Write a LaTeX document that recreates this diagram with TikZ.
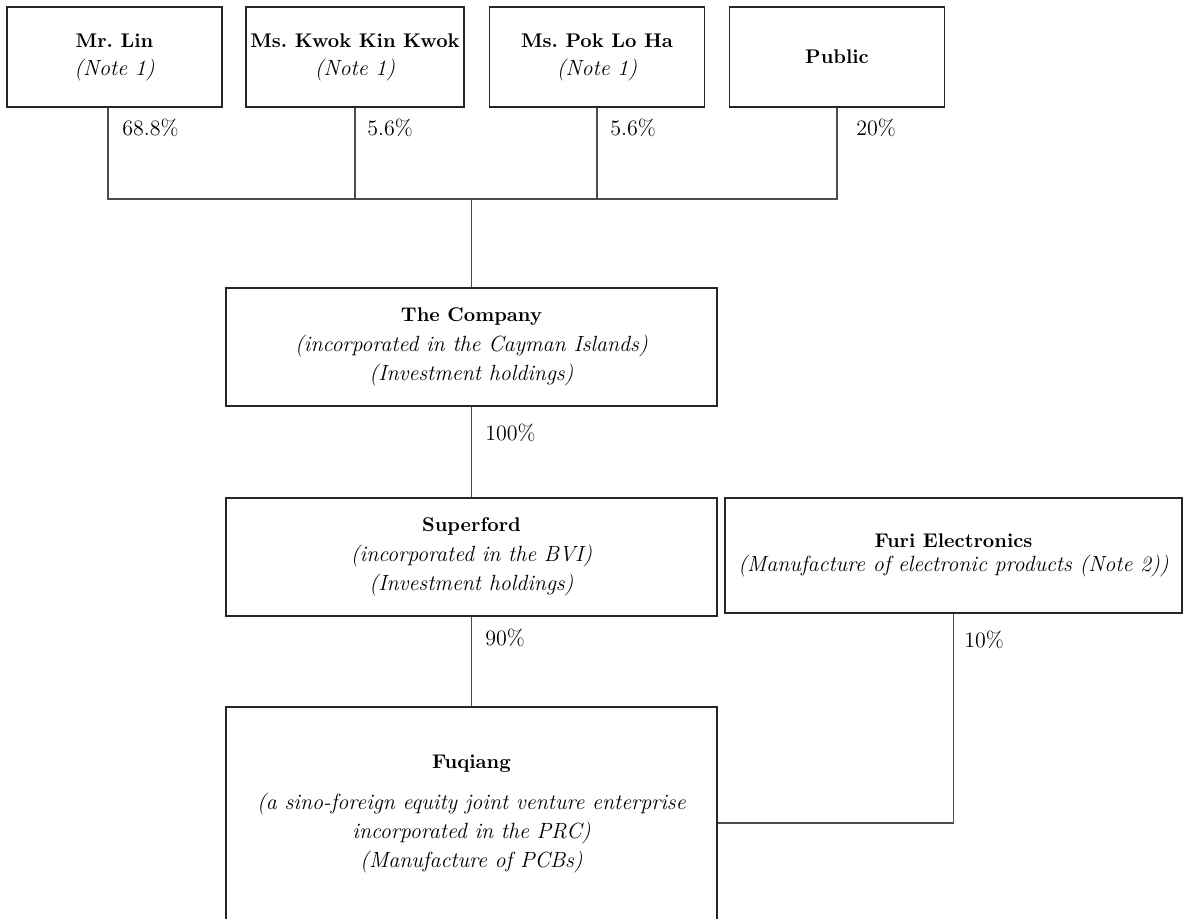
\documentclass[tikz,border=0pt]{standalone}
\usepackage{tikz}
\usetikzlibrary{positioning}
\frenchspacing
\newcommand{\entname}[1]{\textbf{\fontsize{9.9}{12}\selectfont #1}}
\tikzset{
  holder/.style = {draw = black!85, line width = 0.6pt, minimum width = 107.5pt,
    minimum height = 50pt, inner sep = 0pt, align = center,
    font = \fontsize{11}{14}\selectfont},
  entity/.style = {holder, minimum width = 245.5pt, minimum height = 59pt,
    font = \fontsize{11}{14.75}\selectfont},
  link/.style = {draw = black!70, line width = 0.6pt},
  pct/.style = {anchor = west, inner sep = 0pt, font = \fontsize{11}{12}\selectfont}
}

\begin{document}
\begin{tikzpicture}[x = 0.5pt, y = -0.5pt]
        \useasboundingbox (0, 0) rectangle (1190, 918);
        \clip (0, 0) rectangle (1190, 918);
        % shareholders
        \node[holder] (lin) at (114.5, 57) {\entname{Mr. Lin}\\ \textit{(Note 1)}};
        \node[holder, minimum width = 109pt] (kwok) at (355, 57) {\entname{Ms. Kwok Kin Kwok}\\ \textit{(Note 1)}};
        \node[holder] (pok) at (597, 57) {\entname{Ms. Pok Lo Ha}\\ \textit{(Note 1)}};
        \node[holder] (pub) at (837, 57) {\entname{Public}};
        % group companies
        \node[entity] (co) at (471.5, 347) {\entname{The Company}\\ \textit{(incorporated in the Cayman Islands)}\\ \textit{(Investment holdings)}};
        \node[entity] (sup) at (471.5, 557) {\entname{Superford}\\ \textit{(incorporated in the BVI)}\\ \textit{(Investment holdings)}};
        \node[entity, minimum width = 228.5pt, minimum height = 57.5pt] (furi) at (953.5, 555.5) {\entname{Furi Electronics}\\[-3pt] \textit{(Manufacture of electronic products (Note 2))}};
        \node[entity, minimum height = 107pt, font = \fontsize{11}{14.5}\selectfont] (fuq) at (471.5, 814) {\entname{Fuqiang}\\[6pt] \textit{(a sino-foreign equity joint venture enterprise}\\ \textit{incorporated in the PRC)}\\ \textit{(Manufacture of PCBs)}};
        % connectors
        \coordinate (bar) at (471.5, 199);
        \coordinate (knee) at (953.5, 823);
        \draw[link] ([xshift = -3.25pt]lin.south) |- (bar) -| (pub.south);
        \draw[link] (kwok.south) -- (kwok.south |- bar);
        \draw[link] (pok.south) -- (pok.south |- bar);
        \draw[link] (bar) -- (co.north);
        \draw[link] (co.south) -- (sup.north);
        \draw[link] (sup.south) -- (fuq.north);
        \draw[link] (furi.south) |- (fuq.east |- knee);
        % holdings
        \node[pct] (plin) at (122, 128) {68.8\%};
        \node[pct] (pkwok) at (367, 128) {5.6\%};
        \node[pct] (ppok) at (610, 128) {5.6\%};
        \node[pct] (ppub) at (856, 128) {20\%};
        \node[pct] (pco) at (485, 433) {100\%};
        \node[pct] (psup) at (485, 638) {90\%};
        \node[pct] (pfuri) at (964, 640) {10\%};
    \end{tikzpicture}
\end{document}
